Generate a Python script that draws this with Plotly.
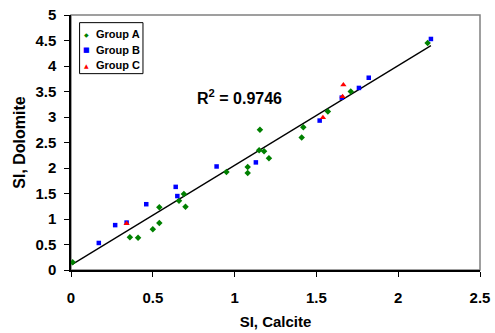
import numpy as np
import plotly.graph_objects as go

# Group A (green)
a_x = [0.01, 0.36, 0.41, 0.50, 0.54, 0.54, 0.66, 0.69, 0.70, 0.95, 1.08, 1.08, 1.15, 1.155, 1.18, 1.21, 1.41, 1.42, 1.57, 1.71, 2.18]
a_y = [0.15, 0.64, 0.63, 0.80, 1.23, 0.92, 1.36, 1.49, 1.24, 1.92, 2.02, 1.90, 2.35, 2.75, 2.33, 2.19, 2.60, 2.80, 3.11, 3.50, 4.45]
# Group B (blue)
b_x = [0.17, 0.27, 0.34, 0.46, 0.64, 0.65, 0.89, 1.13, 1.52, 1.655, 1.76, 1.82, 2.20]
b_y = [0.53, 0.88, 0.93, 1.29, 1.63, 1.45, 2.03, 2.11, 2.93, 3.38, 3.57, 3.77, 4.53]
# Group C (red)
c_x = [0.34, 1.54, 1.66, 1.665]
c_y = [0.91, 2.99, 3.40, 3.63]

group_names = ["Group A", "Group B", "Group C"]
group_colors = ["#008000", "#0000FF", "#FF0000"]
group_glyphs = ["\u25C6", "\u25A0", "\u25B2"]

r2_text = "<b>R<sup>2</sup> = 0.9746</b>"
x_ticks = [0, 0.5, 1, 1.5, 2, 2.5]
x_ticklabels = ["0", "0.5", "1", "1.5", "2", "2.5"]
y_ticks = [0, 0.5, 1, 1.5, 2, 2.5, 3, 3.5, 4, 4.5, 5]
y_ticklabels = ["0", "0.5", "1", "1.5", "2", "2.5", "3", "3.5", "4", "4.5", "5"]

all_x = np.array(a_x + b_x + c_x)
all_y = np.array(a_y + b_y + c_y)
slope, intercept = np.polyfit(all_x, all_y, 1)
fx = np.array([all_x.min(), all_x.max()])
fy = slope * fx + intercept

FONT = "Arial, 'Liberation Sans', sans-serif"

fig = go.Figure()
fig.add_trace(go.Scatter(x=fx, y=fy, mode="lines", line=dict(color="black", width=1.3),
                         showlegend=False, hoverinfo="skip"))
fig.add_trace(go.Scatter(x=a_x, y=a_y, mode="markers", name=group_names[0], showlegend=False,
                         marker=dict(symbol="diamond", size=5, color=group_colors[0])))
fig.add_trace(go.Scatter(x=b_x, y=b_y, mode="markers", name=group_names[1], showlegend=False,
                         marker=dict(symbol="square", size=4.5, color=group_colors[1])))
fig.add_trace(go.Scatter(x=c_x, y=c_y, mode="markers", name=group_names[2], showlegend=False,
                         marker=dict(symbol="triangle-up", size=5.5, color=group_colors[2])))

# plot frame (gray top/right)
fig.add_shape(type="rect", xref="paper", yref="paper", x0=0, y0=0, x1=1, y1=1,
              line=dict(color="#808080", width=1.5), layer="below")

# compact legend box (Excel style)
fig.add_shape(type="rect", xref="paper", yref="paper", x0=0.021, y0=0.770, x1=0.176, y1=0.970,
              line=dict(color="black", width=1), fillcolor="white", layer="above")
legend_y = [0.924, 0.863, 0.802]
glyph_sizes = [6, 7, 6]
for name, col, gl, yy, gs in zip(group_names, group_colors, group_glyphs, legend_y, glyph_sizes):
    fig.add_annotation(x=0.0391, y=yy, xref="paper", yref="paper", text=gl, showarrow=False,
                       xanchor="center", yanchor="middle",
                       font=dict(family="DejaVu Sans", size=gs, color=col))
    fig.add_annotation(x=0.0555, y=yy, xref="paper", yref="paper", text="<b>%s</b>" % name,
                       showarrow=False, xanchor="left", yanchor="middle",
                       font=dict(family=FONT, size=11, color="black"))

fig.add_annotation(x=0.411, y=0.68, xref="paper", yref="paper", text=r2_text,
                   showarrow=False, xanchor="center", yanchor="middle",
                   font=dict(family=FONT, size=16, color="black"))

axis_common = dict(showgrid=False, zeroline=False, showline=True, linecolor="black", linewidth=1.5,
                   ticks="outside", ticklen=5, tickcolor="black", tickwidth=1, automargin=False,
                   tickfont=dict(family=FONT, size=15, color="black"))

fig.update_xaxes(range=[0, 2.5], tickvals=x_ticks, ticktext=["<b>%s</b>" % t for t in x_ticklabels],
                 ticklabelstandoff=8,
                 title=dict(text="<b>SI, Calcite</b>", font=dict(family=FONT, size=15, color="black"), standoff=12),
                 **axis_common)
fig.update_yaxes(range=[0, 5], tickvals=y_ticks, ticktext=["<b>%s</b>" % t for t in y_ticklabels],
                 ticklabelstandoff=5,
                 title=dict(text="<b>SI, Dolomite</b>", font=dict(family=FONT, size=16, color="black"), standoff=6),
                 **axis_common)

fig.update_layout(
    width=495, height=333,
    margin=dict(l=71, r=15, t=15, b=63, autoexpand=False),
    paper_bgcolor="white", plot_bgcolor="white",
    font=dict(family=FONT, color="black"),
    showlegend=False,
)

fig.write_html("out.html", config={"displayModeBar": False},
               post_script="document.body.style.margin='0';")
